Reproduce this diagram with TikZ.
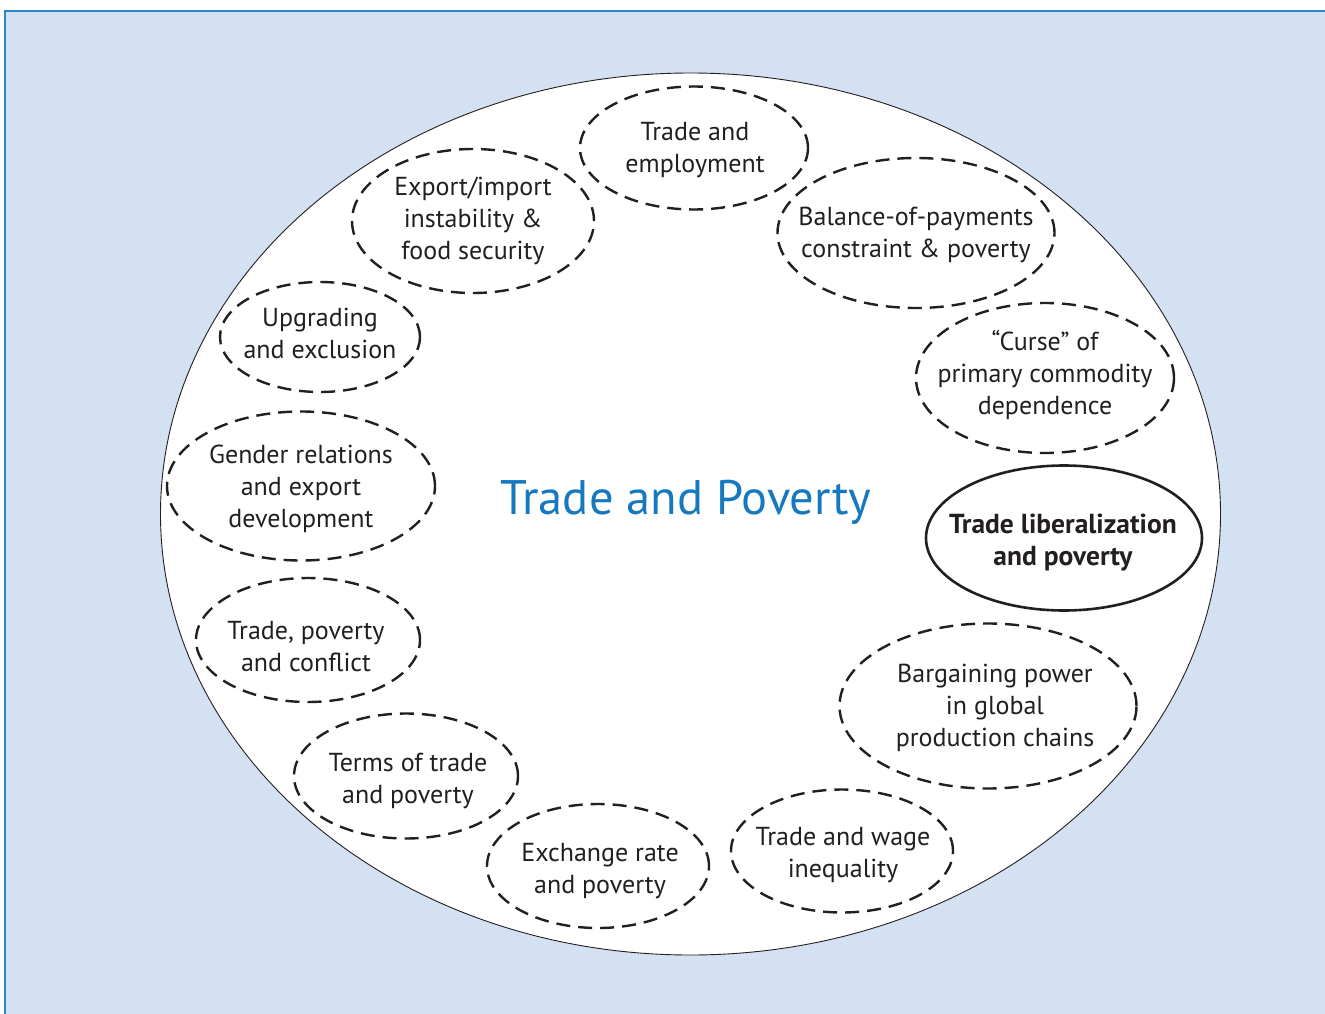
\documentclass[tikz,border=0pt]{standalone}
\usepackage{fontspec}
\setmainfont{PT Sans}
\usetikzlibrary{shapes.geometric}
\definecolor{bgblue}{HTML}{D3E1F2}
\definecolor{lineblue}{HTML}{2A86C9}
\definecolor{titleblue}{HTML}{1679BF}
\definecolor{txt}{HTML}{231F20}
\tikzset{
  bubble/.style={shape=ellipse, draw=txt, line width=2.4pt, dash pattern=on 14pt off 8pt, inner sep=0pt},
  mainbubble/.style={shape=ellipse, draw=txt, line width=2.6pt, inner sep=0pt},
  label/.style={text=txt, align=center, font=\fontsize{26}{32}\selectfont, inner sep=0pt},
  boldlabel/.style={text=txt, align=center, font=\fontsize{27.5}{32}\selectfont\bfseries, inner sep=0pt},
}
\begin{document}
\begin{tikzpicture}[x=1pt,y=-1pt]
\useasboundingbox (0,0) rectangle (1325,1014);
\fill[bgblue] (5,11) rectangle (1335,1020);
\draw[lineblue, line width=2pt] (5,1020) -- (5,11) -- (1335,11);
\node[shape=ellipse, draw=txt, fill=white, line width=0.9pt, minimum width=1060pt, minimum height=882pt] (big) at (690.5,514) {};
\node[text=titleblue, font=\fontsize{48.5}{58}\selectfont, inner sep=0pt] (title) at (686,502) {Trade and Poverty};
% bubbles
\node[bubble, minimum width=228pt, minimum height=123pt] (e1) at (694,148) {};
\node[label] (t1) at (695,150) {Trade and\\employment};
\node[bubble, minimum width=242pt, minimum height=144pt] (e2) at (473,221) {};
\node[label] (t2) at (473,221) {Export/import\\instability \&\\food security};
\node[bubble, minimum width=277pt, minimum height=150pt] (e3) at (916,233) {};
\node[label] (t3) at (916,235) {Balance-of-payments\\constraint \& poverty};
\node[bubble, minimum width=200pt, minimum height=110pt] (e4) at (320,337) {};
\node[label] (t4) at (320,333) {Upgrading\\and exclusion};
\node[bubble, minimum width=258pt, minimum height=150pt] (e5) at (1045,378) {};
\node[label] (t5) at (1045,375) {``Curse'' of\\primary commodity\\dependence};
\node[bubble, minimum width=268pt, minimum height=149pt] (e6) at (301,486) {};
\node[label] (t6) at (301,489) {Gender relations\\and export\\development};
\node[mainbubble, minimum width=276pt, minimum height=145pt] (e7) at (1064,538) {};
\node[boldlabel] (t7) at (1063,543) {Trade liberalization\\and poverty};
\node[bubble, minimum width=224pt, minimum height=124pt] (e8) at (308,640) {};
\node[label] (t8) at (306,647) {Trade, poverty\\and conflict};
\node[bubble, minimum width=297pt, minimum height=165pt] (e9) at (988,706) {};
\node[label] (t9) at (995,708) {Bargaining power\\in global\\production chains};
\node[bubble, minimum width=224pt, minimum height=125pt] (e10) at (406,776) {};
\node[label] (t10) at (408,781) {Terms of trade\\and poverty};
\node[bubble, minimum width=222pt, minimum height=124pt] (e11) at (598,866) {};
\node[label] (t11) at (600,871) {Exchange rate\\and poverty};
\node[bubble, minimum width=222pt, minimum height=123pt] (e12) at (842,851) {};
\node[label] (t12) at (843,855) {Trade and wage\\inequality};
\end{tikzpicture}
\end{document}
